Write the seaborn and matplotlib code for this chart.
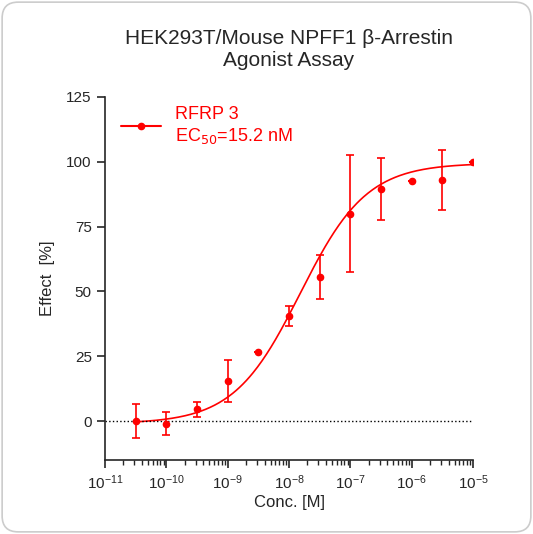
import numpy as np
import matplotlib.pyplot as plt
import seaborn as sns
from matplotlib.patches import FancyBboxPatch

# data
log_conc = [-10.5, -10, -9.5, -9, -8.5, -8, -7.5, -7, -6.5, -6, -5.5, -5]
effect = [0, -1, 4.5, 15.5, 26.5, 40.5, 55.5, 80, 89.5, 92.5, 93, 100]
err = [6.5, 4.5, 3, 8, 0, 4, 8.5, 22.5, 12, 0, 11.5, 0]

# fitted curve parameters
ec50 = 15.2e-9
bottom, top, hill = -1.0, 99.5, 0.8

sns.set_style("ticks")
plt.rcParams['font.family'] = ['Liberation Sans', 'DejaVu Sans']
red = '#ff0000'

fig = plt.figure(figsize=(5.33, 5.34), dpi=100, facecolor='white')
fig.patches.append(FancyBboxPatch((0.004, 0.004), 0.992, 0.992,
                                  boxstyle="round,pad=0,rounding_size=0.03",
                                  transform=fig.transFigure, fc='none',
                                  ec='#cccccc', lw=1.2, zorder=-10))
ax = fig.add_axes([105/533, 1 - 460/534, 368/533, 363/534])
ax.set_facecolor('none')

conc = 10.0 ** np.array(log_conc)
xs = np.logspace(-10.5, -5, 300)
ys = bottom + (top - bottom) / (1 + (ec50 / xs) ** hill)
sns.lineplot(x=xs, y=ys, ax=ax, color=red, lw=1.2)
ax.errorbar(conc, effect, yerr=err, fmt='o', color=red, ms=4.5,
            capsize=3, elinewidth=1.2, capthick=1.2)
ax.plot([], [], '-o', color=red, ms=4.5, label='RFRP 3\nEC$_{50}$=15.2 nM')
ax.axhline(0, color='black', ls=':', lw=1)

ax.set_xscale('log')
ax.set_xlim(1e-11, 1e-5)
ax.set_ylim(-15, 125)
ax.set_yticks([0, 25, 50, 75, 100, 125])
ax.set_xticks(10.0 ** np.arange(-11, -4))
ax.tick_params(labelsize=11, width=1.2, length=6)
ax.tick_params(which='minor', length=3.5, width=1)
for s in ['left', 'bottom']:
    ax.spines[s].set_linewidth(1.2)
sns.despine(ax=ax)
ax.set_xlabel('Conc. [M]', fontsize=12, labelpad=2)
ax.set_ylabel('Effect  [%]', fontsize=12, labelpad=8)
ax.set_title('HEK293T/Mouse NPFF1 β-Arrestin\nAgonist Assay', fontsize=15, pad=22)
leg = ax.legend(loc='upper left', frameon=False, fontsize=13,
                bbox_to_anchor=(0.0, 1.02), handlelength=2.2)
for t in leg.get_texts():
    t.set_color(red)

fig.savefig('out.png', dpi=100)
